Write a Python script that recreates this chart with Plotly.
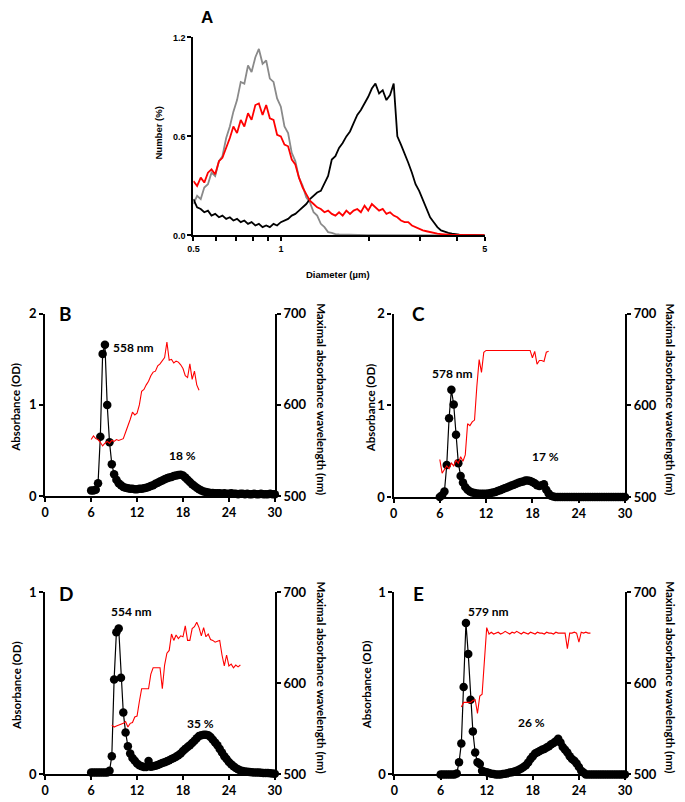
import plotly.graph_objects as go

# ---------------- Panel A data ----------------
DIAMETER_UM = [0.500, 0.515, 0.530, 0.545, 0.561, 0.577, 0.594, 0.612, 0.629, 0.648,
               0.667, 0.686, 0.706, 0.727, 0.748, 0.770, 0.792, 0.816, 0.839, 0.864,
               0.889, 0.915, 0.942, 0.969, 0.998, 1.027, 1.057, 1.088, 1.119, 1.152,
               1.186, 1.220, 1.256, 1.293, 1.330, 1.369, 1.409, 1.450, 1.493, 1.536,
               1.581, 1.627, 1.675, 1.724, 1.774, 1.826, 1.879, 1.934, 1.991, 2.049,
               2.108, 2.170, 2.233, 2.299, 2.366, 2.435, 2.506, 2.579, 2.654, 2.732,
               2.812, 2.894, 2.978, 3.065, 3.155, 3.247, 3.342, 3.439, 3.540, 3.643,
               3.749, 3.859, 3.972, 4.088, 4.207, 4.330, 4.456, 4.586, 4.720, 4.858, 5.000]

A_GRAY = [0.19, 0.24, 0.22, 0.29, 0.31, 0.38, 0.36, 0.45, 0.48, 0.59,
          0.66, 0.75, 0.82, 0.93, 0.92, 1.03, 0.99, 1.08, 1.13, 1.04,
          1.06, 0.95, 0.93, 0.83, 0.78, 0.66, 0.62, 0.50, 0.45, 0.35,
          0.30, 0.23, 0.20, 0.14, 0.12, 0.07, 0.05, 0.02, 0.015, 0.008,
          0.006, 0.005, 0.004, 0.004, 0.003, 0.003, 0.003, 0.002, 0.002, 0.002,
          0.002, 0.002, 0.002, 0.002, 0.002, 0.001, 0.001, 0.001, 0.001, 0.001,
          0.001, 0.001, 0.001, 0.001, 0.001, 0.001, 0.001, 0.001, 0.001, 0.001,
          0.0, 0.0, 0.0, 0.0, 0.0, 0.0, 0.0, 0.0, 0.0, 0.0, 0.0]

A_RED = [0.33, 0.30, 0.35, 0.32, 0.38, 0.40, 0.37, 0.45, 0.47, 0.53,
         0.59, 0.66, 0.62, 0.70, 0.66, 0.74, 0.70, 0.79, 0.80, 0.73,
         0.79, 0.71, 0.70, 0.61, 0.60, 0.55, 0.54, 0.46, 0.43, 0.35,
         0.29, 0.25, 0.21, 0.19, 0.17, 0.16, 0.14, 0.15, 0.13, 0.12,
         0.14, 0.12, 0.15, 0.13, 0.15, 0.16, 0.14, 0.18, 0.15, 0.19,
         0.17, 0.15, 0.16, 0.13, 0.14, 0.12, 0.11, 0.09, 0.08, 0.08,
         0.06, 0.05, 0.04, 0.03, 0.025, 0.02, 0.012, 0.01, 0.008, 0.005,
         0.004, 0.003, 0.003, 0.002, 0.002, 0.002, 0.002, 0.001, 0.001, 0.001, 0.001]

A_BLACK = [0.22, 0.17, 0.16, 0.14, 0.15, 0.12, 0.13, 0.11, 0.12, 0.10,
           0.11, 0.09, 0.10, 0.08, 0.09, 0.07, 0.08, 0.06, 0.07, 0.05,
           0.06, 0.05, 0.07, 0.06, 0.08, 0.09, 0.10, 0.12, 0.13, 0.15,
           0.17, 0.19, 0.22, 0.24, 0.26, 0.27, 0.32, 0.36, 0.46, 0.48,
           0.53, 0.56, 0.60, 0.63, 0.68, 0.73, 0.76, 0.80, 0.84, 0.89,
           0.92, 0.86, 0.88, 0.82, 0.85, 0.92, 0.60, 0.55, 0.50, 0.44,
           0.38, 0.31, 0.27, 0.22, 0.16, 0.11, 0.08, 0.05, 0.03, 0.02,
           0.015, 0.01, 0.006, 0.004, 0.003, 0.002, 0.002, 0.001, 0.001, 0.001, 0.0]

A_XTICKS = [0.5, 0.6, 0.7, 0.8, 0.9, 1, 2, 3, 4, 5]
A_XTICKTEXT = ["0.5", "", "", "", "", "1", "", "", "", "5"]
A_YTICKS = [0.0, 0.6, 1.2]
A_YTICKTEXT = ["0.0", "0.6", "1.2"]

# ---------------- Panels B-E data ----------------
FRACTION_ML = [6.0, 6.3, 6.6, 6.9, 7.2, 7.5, 7.8, 8.1, 8.4, 8.7,
               9.0, 9.3, 9.6, 9.9, 10.2, 10.5, 10.8, 11.1, 11.4, 11.7,
               12.0, 12.3, 12.6, 12.9, 13.2, 13.5, 13.8, 14.1, 14.4, 14.7,
               15.0, 15.3, 15.6, 15.9, 16.2, 16.5, 16.8, 17.1, 17.4, 17.7,
               18.0, 18.3, 18.6, 18.9, 19.2, 19.5, 19.8, 20.1, 20.4, 20.7,
               21.0, 21.3, 21.6, 21.9, 22.2, 22.5, 22.8, 23.1, 23.4, 23.7,
               24.0, 24.3, 24.6, 24.9, 25.2, 25.5, 25.8, 26.1, 26.4, 26.7,
               27.0, 27.3, 27.6, 27.9, 28.2, 28.5, 28.8, 29.1, 29.4, 29.7, 30.0]

N = None

B_ABS = [0.06, 0.06, 0.07, 0.14, 0.65, 1.56, 1.66, 1.00, 0.59, 0.35,
         0.24, 0.18, 0.14, 0.12, 0.10, 0.09, 0.085, 0.08, 0.08, 0.075,
         0.075, 0.08, 0.08, 0.085, 0.09, 0.10, 0.11, 0.12, 0.135, 0.145,
         0.16, 0.17, 0.185, 0.195, 0.205, 0.21, 0.22, 0.225, 0.23, 0.235,
         0.225, 0.205, 0.18, 0.155, 0.13, 0.11, 0.09, 0.075, 0.06, 0.05,
         0.045, 0.04, 0.035, 0.035, 0.03, 0.03, 0.03, 0.025, 0.03, 0.025,
         0.025, 0.03, 0.025, 0.025, 0.02, 0.025, 0.025, 0.02, 0.025, 0.02,
         0.02, 0.025, 0.02, 0.02, 0.025, 0.02, 0.02, 0.02, 0.025, 0.02, 0.02]
B_WL = [562, 566, 563, 562, 559, 555, 558, 560, 558, 561,
        560, 562, 561, 562, 563, 570, 576, 584, 592, 589,
        591, 600, 615, 617, 622, 626, 632, 636, 637, 643,
        645, 648, 652, 669, 649, 650, 646, 648, 647, 644,
        640, 632, 630, 645, 628, 637, 622, 616, N, N,
        N, N, N, N, N, N, N, N, N, N,
        N, N, N, N, N, N, N, N, N, N,
        N, N, N, N, N, N, N, N, N, N, N]

C_ABS = [0.00, 0.02, 0.06, 0.35, 0.86, 1.17, 1.01, 0.68, 0.37, 0.23,
         0.16, 0.11, 0.08, 0.06, 0.05, 0.045, 0.04, 0.035, 0.035, 0.035,
         0.035, 0.04, 0.045, 0.05, 0.055, 0.065, 0.075, 0.085, 0.095, 0.105,
         0.115, 0.125, 0.135, 0.145, 0.155, 0.165, 0.17, 0.18, 0.18, 0.175,
         0.165, 0.15, 0.13, 0.12, 0.13, 0.14, 0.08, 0.04, 0.015, 0.005,
         0.0, 0.0, 0.0, 0.0, 0.0, 0.0, 0.0, 0.0, 0.0, 0.0,
         0.0, 0.0, 0.0, 0.0, 0.0, 0.0, 0.0, 0.0, 0.0, 0.0,
         0.0, 0.0, 0.0, 0.0, 0.0, 0.0, 0.0, 0.0, 0.0, 0.0, 0.0]
C_WL = [541, 526, 530, 534, 531, 537, 534, 540, 537, 544,
        539, 546, 580, 578, 582, 584, 621, 650, 636, 658,
        660, 660, 660, 660, 660, 660, 660, 660, 660, 660,
        660, 660, 660, 660, 660, 660, 660, 660, 660, 660,
        652, 659, 645, 649, 649, 648, 658, 659, N, N,
        N, N, N, N, N, N, N, N, N, N,
        N, N, N, N, N, N, N, N, N, N,
        N, N, N, N, N, N, N, N, N, N, N]

D_ABS = [0.01, 0.01, 0.01, 0.01, 0.01, 0.01, 0.01, 0.01, 0.02, 0.10,
         0.52, 0.78, 0.80, 0.53, 0.34, 0.23, 0.155, 0.115, 0.09, 0.075,
         0.06, 0.05, 0.045, 0.04, 0.04, 0.073, 0.042, 0.045, 0.048, 0.052,
         0.057, 0.062, 0.067, 0.072, 0.078, 0.085, 0.09, 0.097, 0.105, 0.115,
         0.128, 0.14, 0.15, 0.16, 0.172, 0.185, 0.198, 0.21, 0.215, 0.218,
         0.218, 0.215, 0.205, 0.19, 0.175, 0.16, 0.14, 0.12, 0.10, 0.085,
         0.068, 0.055, 0.045, 0.035, 0.028, 0.022, 0.018, 0.016, 0.014, 0.013,
         0.012, 0.011, 0.010, 0.010, 0.009, 0.008, 0.008, 0.007, 0.006, 0.005, 0.004]
D_WL = [N, N, N, N, N, N, N, N, N, 554,
        552, 553, 554, 555, 556, 558, 552, 556, 557, 563,
        564, 580, 594, 594, 594, 594, 610, 617, 617, 617,
        617, 594, 620, 633, 636, 654, 647, 653, 649, 652,
        651, 663, 647, 647, 660, 662, 667, 661, 652, 661,
        651, 654, 648, 647, 645, 646, 647, 631, 619, 631,
        619, 621, 617, 620, 618, 620, N, N, N, N,
        N, N, N, N, N, N, N, N, N, N, N]

E_ABS = [0.0, 0.0, 0.0, 0.0, 0.0, 0.0, 0.0, 0.005, 0.066, 0.17,
         0.48, 0.83, 0.66, 0.41, 0.236, 0.12, 0.066, 0.057, 0.02, 0.015,
         0.012, 0.008, 0.004, 0.002, 0.0, 0.0, 0.0, 0.002, 0.004, 0.006,
         0.01, 0.012, 0.016, 0.02, 0.026, 0.032, 0.04, 0.05, 0.065, 0.085,
         0.10, 0.115, 0.122, 0.128, 0.135, 0.14, 0.148, 0.155, 0.165, 0.172,
         0.182, 0.195, 0.175, 0.15, 0.135, 0.12, 0.10, 0.085, 0.075, 0.06,
         0.04, 0.02, 0.01, 0.0, 0.0, 0.0, 0.0, 0.0, 0.0, 0.0,
         0.0, 0.0, 0.0, 0.0, 0.0, 0.0, 0.0, 0.0, 0.0, 0.0, 0.0]
E_WL = [N, N, N, N, N, N, N, N, N, 574,
        579, 579, 579, 579, 581, 582, 567, 586, 588, 624,
        661, 654, 656, 654, 655, 656, 654, 655, 657, 655,
        654, 656, 655, 657, 655, 654, 656, 655, 654, 656,
        655, 654, 656, 655, 655, 654, 656, 655, 655, 654,
        656, 655, 655, 655, 655, 638, 655, 655, 656, 655,
        645, 656, 655, 656, 655, 655, N, N, N, N,
        N, N, N, N, N, N, N, N, N, N, N]

X_TICKS = [0, 6, 12, 18, 24, 30]
WL_TICKS = [500, 600, 700]

PANELS = [
    # letter, abs, wl, left max, peak label, percent label
    ("B", B_ABS, B_WL, 2, "558 nm", "18 %"),
    ("C", C_ABS, C_WL, 2, "578 nm", "17 %"),
    ("D", D_ABS, D_WL, 1, "554 nm", "35 %"),
    ("E", E_ABS, E_WL, 1, "579 nm", "26 %"),
]

# ---------------- layout helpers ----------------
W, H = 685, 802


def fx(px):
    return px / W


def fy(py):
    return 1 - py / H


FONT_A = "Liberation Sans"
FONT_B = "Lato"

fig = go.Figure()

# Panel A traces
for ys, col in [(A_GRAY, "#8a8a8a"), (A_BLACK, "#000000"), (A_RED, "#ff0000")]:
    fig.add_trace(go.Scatter(x=DIAMETER_UM, y=ys, mode="lines",
                             line=dict(color=col, width=1.8),
                             xaxis="x", yaxis="y", showlegend=False,
                             hoverinfo="skip"))

axis_common = dict(showline=True, linecolor="black", linewidth=2.2,
                   ticks="outside", ticklen=4, tickwidth=2, tickcolor="black",
                   showgrid=False, zeroline=False)

layout = dict(
    width=W, height=H, margin=dict(l=0, r=0, t=0, b=0),
    paper_bgcolor="white", plot_bgcolor="white", showlegend=False,
)

layout["xaxis"] = dict(axis_common, type="log", domain=[fx(191), fx(488)],
                       range=[-0.30103, 0.69897], tickvals=A_XTICKS,
                       ticktext=A_XTICKTEXT, anchor="y", ticklen=4,
                       tickfont=dict(family=FONT_A, size=9, color="black", weight="bold"))
layout["yaxis"] = dict(axis_common, domain=[fy(232), fy(30)], range=[0, 1.2],
                       tickvals=A_YTICKS, ticktext=A_YTICKTEXT, anchor="x", ticklen=4,
                       tickfont=dict(family=FONT_A, size=9, color="black", weight="bold"))

annotations = [
    dict(text="<b>A</b>", x=fx(205), y=fy(10), font=dict(family=FONT_A, size=17)),
    dict(text="<b>Number (%)</b>", x=fx(155), y=fy(128), textangle=-90,
         font=dict(family=FONT_A, size=9.5)),
    dict(text="<b>Diameter (µm)</b>", x=fx(338), y=fy(272),
         font=dict(family=FONT_A, size=9.5)),
]

# pixel geometry of panels B-E:
# (left, right, top, bottom, peak label xy, pct label xy, letter xy, left title x, right title x)
GEOM = [
    (40, 274, 312, 498, (130, 346), (180, 457), (61, 312), 10, 322),
    (395, 631, 312, 499, (455, 373), (550, 458), (420, 312), 371, 677),
    (40, 274, 596, 782, (128, 616), (198, 730), (61, 597), 10, 322),
    (396, 631, 596, 782, (492, 616), (536, 729), (420, 597), 367, 677),
]

tick_font = dict(family=FONT_B, size=13, color="black", weight="bold")
tick_font_x = dict(family=FONT_B, size=12.5, color="black", weight="bold")

for i, (panel, geom) in enumerate(zip(PANELS, GEOM)):
    letter, absv, wlv, ymax, peak_txt, pct_txt = panel
    L, R, T, B, pk, pc, lt, ltx, rtx = geom
    xn = i + 2
    yl = 2 * i + 2
    yr = 2 * i + 3
    fig.add_trace(go.Scatter(x=FRACTION_ML, y=wlv, mode="lines",
                             line=dict(color="#ff0000", width=1.1),
                             xaxis=f"x{xn}", yaxis=f"y{yr}", showlegend=False,
                             connectgaps=False, hoverinfo="skip", cliponaxis=False))
    fig.add_trace(go.Scatter(x=FRACTION_ML, y=absv, mode="lines+markers",
                             line=dict(color="black", width=1.2),
                             marker=dict(color="black", size=8.5),
                             xaxis=f"x{xn}", yaxis=f"y{yl}", showlegend=False,
                             hoverinfo="skip", cliponaxis=False))
    layout[f"xaxis{xn}"] = dict(axis_common, domain=[fx(L), fx(R)], range=[0, 30],
                                tickvals=X_TICKS, anchor=f"y{yl}", tickfont=tick_font_x)
    layout[f"yaxis{yl}"] = dict(axis_common, domain=[fy(B), fy(T)], range=[0, ymax],
                                tickvals=list(range(0, ymax + 1)), anchor=f"x{xn}",
                                tickfont=tick_font)
    layout[f"yaxis{yr}"] = dict(axis_common, overlaying=f"y{yl}", side="right",
                                range=[500, 700], tickvals=WL_TICKS,
                                anchor=f"x{xn}", tickfont=tick_font)
    ymid = (T + B) / 2
    annotations += [
        dict(text=f"<b>{letter}</b>", x=fx(lt[0]), y=fy(lt[1]),
             font=dict(family=FONT_B, size=19)),
        dict(text=f"<b>{peak_txt}</b>", x=fx(pk[0]), y=fy(pk[1]),
             font=dict(family=FONT_B, size=12)),
        dict(text=f"<b>{pct_txt}</b>", x=fx(pc[0]), y=fy(pc[1]),
             font=dict(family=FONT_B, size=12)),
        dict(text="<b>Absorbance (OD)</b>", x=fx(ltx), y=fy(ymid + 2), textangle=-90,
             font=dict(family=FONT_B, size=11.5)),
        dict(text="<b>Maximal absorbance wavelength (nm)</b>", x=fx(rtx), y=fy(ymid - 6),
             textangle=90, font=dict(family=FONT_B, size=11.5)),
    ]

for a in annotations:
    a.update(xref="paper", yref="paper", showarrow=False,
             xanchor="center", yanchor="middle")
    a["font"]["color"] = "black"

layout["annotations"] = annotations
fig.update_layout(**layout)
fig.write_html("out.html", config={"displayModeBar": False},
               post_script="document.body.style.margin='0px';document.body.style.overflow='hidden';")
